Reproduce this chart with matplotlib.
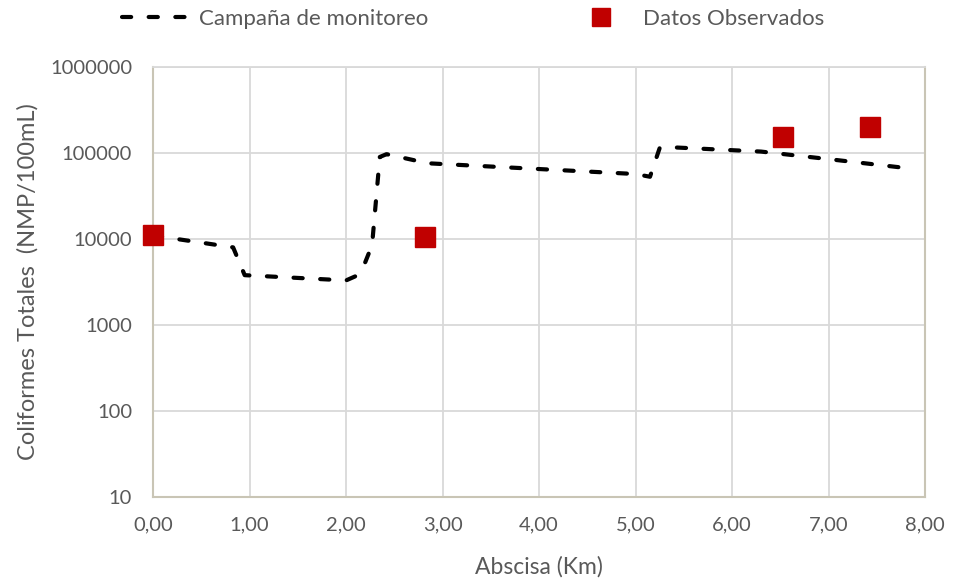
import matplotlib
matplotlib.use("Agg")
import matplotlib.pyplot as plt
from matplotlib.ticker import FixedLocator, FuncFormatter, NullLocator
from matplotlib.lines import Line2D

# Data
line_x = [0.0, 0.83, 0.95, 2.0, 2.10, 2.20, 2.27, 2.35, 2.42, 2.85, 5.0, 5.15, 5.25, 5.35, 6.3, 7.0, 7.8]
line_y = [11000, 8000, 3800, 3300, 3700, 5400, 8500, 90000, 97000, 76000, 57000, 53000, 114000, 117000, 104000, 85000, 67000]
obs_x = [0.0, 2.82, 6.53, 7.43]
obs_y = [11000, 10500, 153000, 200000]
x_ticks = [0, 1, 2, 3, 4, 5, 6, 7, 8]
y_ticks = [10, 100, 1000, 10000, 100000, 1000000]
line_label = "Campaña de monitoreo"
obs_label = "Datos Observados"
x_label = "Abscisa (Km)"
y_label = "Coliformes Totales  (NMP/100mL)"

plt.rcParams['font.family'] = ['Lato', 'DejaVu Sans']
txt = '#595959'

fig = plt.figure(figsize=(9.54, 5.83), dpi=100)
ax = fig.add_axes([0.1604, 0.1475, 0.8092, 0.7375])

ax.plot(line_x, line_y, color='black', lw=3, dashes=(2.2, 4.2), dash_capstyle='round', zorder=3)
ax.plot(obs_x, obs_y, ls='none', marker='s', markersize=14.5, color='#c00000', zorder=4, clip_on=False)

ax.set_yscale('log')
ax.set_ylim(10, 1000000)
ax.set_xlim(0, 8)
ax.yaxis.set_major_locator(FixedLocator(y_ticks))
ax.yaxis.set_minor_locator(NullLocator())
ax.yaxis.set_major_formatter(FuncFormatter(lambda v, p: f"{int(round(v))}"))
ax.xaxis.set_major_locator(FixedLocator(x_ticks))
ax.xaxis.set_major_formatter(FuncFormatter(lambda v, p: f"{v:.2f}".replace('.', ',')))

ax.grid(True, color='#d9d9d9', lw=1.3, zorder=0)
ax.set_axisbelow(True)
for s in ['left', 'bottom', 'right']:
    ax.spines[s].set_color('#c9c5b5')
    ax.spines[s].set_linewidth(1.5)
ax.spines['top'].set_color('#d9d9d9')
ax.spines['top'].set_linewidth(1.3)

ax.tick_params(axis='both', length=0, labelsize=14.5, labelcolor=txt)
ax.tick_params(axis='y', pad=15)
ax.tick_params(axis='x', pad=14)

ax.set_xlabel(x_label, fontsize=16.5, color=txt, labelpad=16)
ax.set_ylabel(y_label, fontsize=17, color=txt, labelpad=8)

handles = [Line2D([], [], color='black', lw=3, dashes=(2.2, 4.2), dash_capstyle='round'),
           Line2D([], [], ls='none', marker='s', markersize=13, color='#c00000')]
leg = fig.legend(handles, [line_label, obs_label], loc='center', bbox_to_anchor=(0.496, 0.968),
                 ncol=2, frameon=False, fontsize=16, handlelength=3.15, handletextpad=0.3,
                 columnspacing=6.2)
for t in leg.get_texts():
    t.set_color(txt)

fig.savefig('out.png', dpi=100)
